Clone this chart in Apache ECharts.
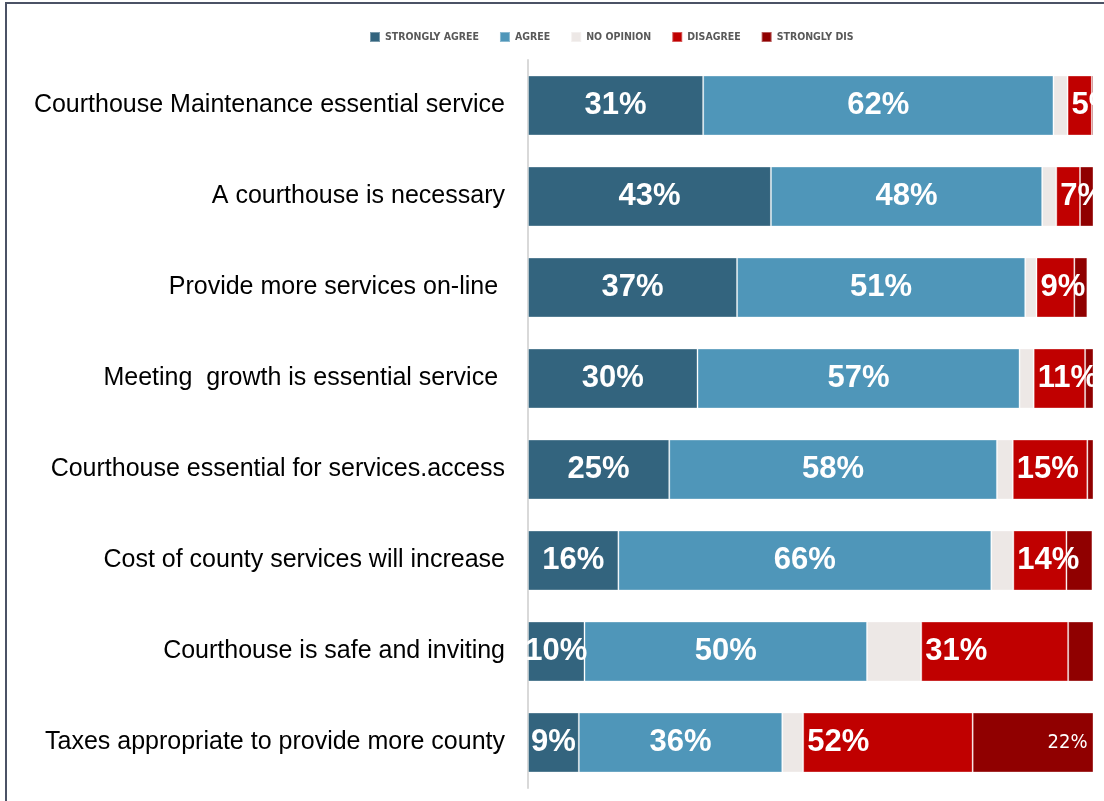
<!DOCTYPE html>
<html>
<head>
<meta charset="utf-8">
<title>Courthouse survey</title>
<script src="https://cdn.jsdelivr.net/npm/echarts@6/dist/echarts.min.js"></script>
<style>
  html, body { margin: 0; padding: 0; background: #ffffff; }
  #chart { width: 1104px; height: 801px; }
</style>
</head>
<body>
<div id="chart"></div>
<script>
// Survey statements, top to bottom
const statements = [
  'Courthouse Maintenance essential service',
  'A courthouse is necessary',
  'Provide more services on-line ',
  'Meeting  growth is essential service ',
  'Courthouse essential for services.access',
  'Cost of county services will increase',
  'Courthouse is safe and inviting',
  'Taxes appropriate to provide more county'
];

const seriesNames = ['STRONGLY AGREE', 'AGREE', 'NO OPINION', 'DISAGREE', 'STRONGLY DIS'];

// Shares of respondents (%)
const stronglyAgree  = [31, 43, 37, 30, 25, 16, 10, 9];
const agree          = [62, 48, 51, 57, 58, 66, 50, 36];
const noOpinion      = [2.5, 2.5, 2, 2.5, 2.8, 3.9, 9.6, 3.7];
// Everyone who disagrees (disagree + strongly disagree) – shown as the red label
const disagreeTotal  = [5, 7, 9, 11, 15, 14, 31, 52];
const stronglyDis    = [0.7, 2.8, 2.3, 1.9, 1.8, 4.6, 5, 22];

// The plain "disagree" segment is the total minus the strongly-disagree part
const disagreeOnly = disagreeTotal.map((t, i) => +(t - stronglyDis[i]).toFixed(1));

const colors = ['#33647e', '#4f96b9', '#ede8e6', '#c00000', '#900000'];

const boldLabel = {
  show: true,
  color: '#ffffff',
  fontFamily: 'Liberation Sans, Arial, sans-serif',
  fontWeight: 'bold',
  fontSize: 31
};

function barSeries(name, data, color, label) {
  return {
    name: name,
    type: 'bar',
    stack: 'total',
    data: data,
    barCategoryGap: '34%',
    itemStyle: { color: color, borderColor: 'rgba(255,255,255,0.35)', borderWidth: 1 },
    label: label,
    emphasis: { disabled: true },
    animation: false
  };
}

const chart = echarts.init(document.getElementById('chart'), null, { renderer: 'canvas' });

chart.setOption({
  backgroundColor: '#ffffff',
  animation: false,
  legend: {
    data: seriesNames,
    left: 369,
    top: 31,
    padding: 0,
    icon: 'rect',
    itemWidth: 10,
    itemHeight: 10,
    itemGap: 20,
    textStyle: {
      color: '#595959',
      fontFamily: 'DejaVu Sans Condensed, DejaVu Sans, sans-serif',
      fontWeight: 'bold',
      fontSize: 10.5
    }
  },
  grid: { left: 528, right: 11, top: 60, bottom: 13, containLabel: false },
  xAxis: {
    type: 'value',
    min: 0,
    max: 100,
    show: false
  },
  yAxis: {
    type: 'category',
    data: statements,
    inverse: true,
    axisLine: { show: true, lineStyle: { color: '#d9d9d9', width: 2 } },
    axisTick: { show: false },
    axisLabel: {
      color: '#000000',
      fontFamily: 'Liberation Sans, Arial, sans-serif',
      fontSize: 25,
      margin: 23
    }
  },
  series: [
    barSeries(seriesNames[0], stronglyAgree, colors[0],
      Object.assign({}, boldLabel, { position: 'inside', formatter: p => p.value + '%' })),
    barSeries(seriesNames[1], agree, colors[1],
      Object.assign({}, boldLabel, { position: 'inside', formatter: p => p.value + '%' })),
    barSeries(seriesNames[2], noOpinion, colors[2], { show: false }),
    barSeries(seriesNames[3], disagreeOnly, colors[3],
      Object.assign({}, boldLabel, {
        position: 'insideLeft',
        distance: 4,
        formatter: p => disagreeTotal[p.dataIndex] + '%'
      })),
    barSeries(seriesNames[4], stronglyDis, colors[4], {
      show: true,
      position: 'insideRight',
      distance: 6,
      color: '#ffffff',
      fontFamily: 'Liberation Sans Narrow, DejaVu Sans Condensed, sans-serif',
      fontSize: 20,
      formatter: p => (p.value >= 10 ? p.value + '%' : '')
    })
  ],
  graphic: [
    {
      type: 'polyline',
      silent: true,
      shape: { points: [[6, 801], [6, 3], [1104, 3]] },
      style: { stroke: '#4b5265', lineWidth: 2, fill: null }
    }
  ]
});
</script>
</body>
</html>
